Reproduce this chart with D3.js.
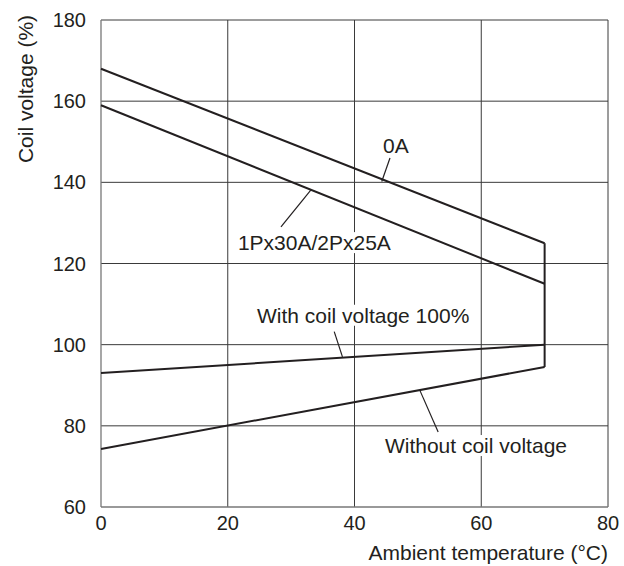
<!DOCTYPE html>
<html><head><meta charset="utf-8">
<script src="https://cdn.jsdelivr.net/npm/d3@7"></script>
<style>body{margin:0;background:#fff}svg{display:block}text{font-family:"Liberation Sans",Arial,sans-serif;fill:#231f20}</style>
</head><body><svg id="c" width="624" height="566"></svg>
<script>
const xTicks = [0, 20, 40, 60, 80];
const yTicks = [60, 80, 100, 120, 140, 160, 180];
const seriesNames = ["0A", "1Px30A/2Px25A", "With coil voltage 100%", "Without coil voltage"];
const seriesX = [0, 70];
const s0A = [168, 125];
const s1P = [159, 115];
const sWith = [93, 100];
const sWithout = [74.3, 94.5];
// label text start [x, y] in data units; leader from label to the line
const labelPos = [[44.5, 147.2], [21.6, 123.3], [24.6, 105.4], [44.8, 73.3]];
const leaderStart = [[45.6, 146.0], [28.4, 129.0], [36.8, 103.2], [50.3, 88.8]];
const leaderEnd = [[44.3, 140.2], [33.1, 138.1], [38.1, 97.0], [53.2, 78.5]];

const svg = d3.select("#c");
const x = d3.scaleLinear().domain([0, 80]).range([101, 608]);
const y = d3.scaleLinear().domain([60, 180]).range([507, 20]);

// grid
svg.append("g").selectAll("line").data(xTicks.slice(1)).join("line")
  .attr("x1", d => x(d)).attr("x2", d => x(d)).attr("y1", y(60)).attr("y2", y(180))
  .attr("stroke", "#3a3a3a").attr("stroke-width", 1);
svg.append("g").selectAll("line").data(yTicks.slice(1)).join("line")
  .attr("x1", x(0)).attr("x2", x(80)).attr("y1", d => y(d)).attr("y2", d => y(d))
  .attr("stroke", "#3a3a3a").attr("stroke-width", 1);
// axes lines (left, bottom)
svg.append("line").attr("x1", x(0)).attr("x2", x(0)).attr("y1", y(60)).attr("y2", y(180)).attr("stroke", "#777").attr("stroke-width", 1.3);
svg.append("line").attr("x1", x(0)).attr("x2", x(80)).attr("y1", y(60)).attr("y2", y(60)).attr("stroke", "#777").attr("stroke-width", 1.3);

// tick labels
svg.append("g").selectAll("text").data(yTicks).join("text")
  .attr("x", 86).attr("y", d => y(d) + 7).attr("text-anchor", "end").attr("font-size", 20).text(d => d);
svg.append("g").selectAll("text").data(xTicks).join("text")
  .attr("x", d => x(d)).attr("y", 530).attr("text-anchor", "middle").attr("font-size", 20).text(d => d);

// axis titles
svg.append("text").attr("transform", "translate(33,89) rotate(-90)").attr("text-anchor", "middle").attr("font-size", 21).text("Coil voltage (%)");
svg.append("text").attr("x", 608).attr("y", 560).attr("text-anchor", "end").attr("font-size", 21).text("Ambient temperature (°C)");

// labels with white backgrounds
const lg = svg.append("g");
seriesNames.forEach((n, i) => {
  const t = lg.append("text").attr("x", x(labelPos[i][0])).attr("y", y(labelPos[i][1])).attr("font-size", 21).text(n);
  const b = t.node().getBBox();
  lg.insert("rect", "text").attr("x", b.x - 2).attr("y", b.y + 1).attr("width", b.width + 4).attr("height", b.height - 2).attr("fill", "#fff");
});

// leaders
leaderStart.forEach((s, i) => {
  svg.append("line").attr("x1", x(s[0])).attr("y1", y(s[1])).attr("x2", x(leaderEnd[i][0])).attr("y2", y(leaderEnd[i][1]))
    .attr("stroke", "#231f20").attr("stroke-width", 1.2);
});

// data lines
const line = d3.line().x(d => x(d[0])).y(d => y(d[1]));
[s0A, s1P, sWith, sWithout].forEach(s => {
  svg.append("path").attr("d", line(seriesX.map((v, i) => [v, s[i]]))).attr("fill", "none").attr("stroke", "#231f20").attr("stroke-width", 2);
});
// vertical edge at 70
svg.append("path").attr("d", line([[70, s0A[1]], [70, sWithout[1]]])).attr("fill", "none").attr("stroke", "#231f20").attr("stroke-width", 2);
</script></body></html>
